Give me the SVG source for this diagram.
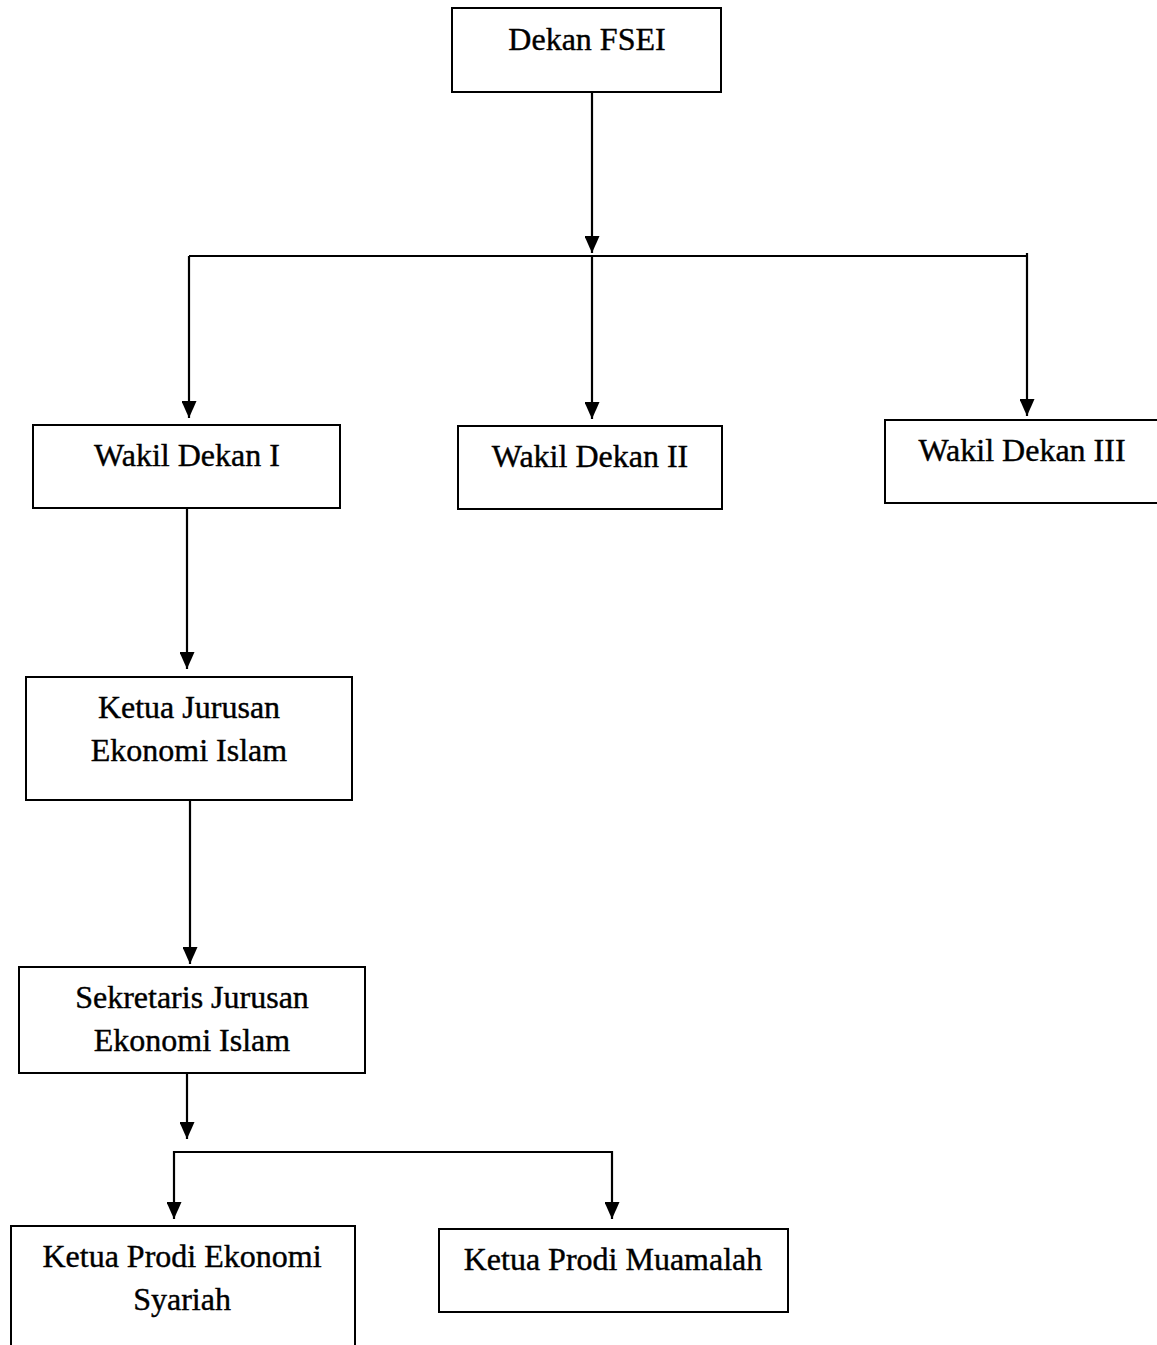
<svg xmlns="http://www.w3.org/2000/svg" width="1157" height="1345" viewBox="0 0 1157 1345">
<style>
.box{fill:#fff;stroke:#000;stroke-width:2}
.t{font-family:"Liberation Serif","Times New Roman",serif;font-size:32px;fill:#000;stroke:#000;stroke-width:0.4;text-anchor:middle}
.c{fill:none;stroke:#000;stroke-width:2.2}
.a{marker-end:url(#ah)}
</style>
<defs>
<marker id="ah" markerWidth="17" markerHeight="15" refX="17" refY="7.5" orient="auto" markerUnits="userSpaceOnUse" viewBox="0 0 17 15">
<path d="M0,0 L17,7.5 L0,15 Z" fill="#000"/>
</marker>
</defs>
<rect width="1157" height="1345" fill="#fff"/>
<g id="connectors">
<path class="c a" d="M592,92 V253"/>
<path class="c" d="M189,256 H1027"/>
<path class="c a" d="M592,256 V419"/>
<path class="c a" d="M189,256 V418"/>
<path class="c a" d="M1027,253 V416"/>
<path class="c a" d="M187,508 V669"/>
<path class="c a" d="M190,800 V964"/>
<path class="c a" d="M187,1073 V1139"/>
<path class="c" d="M174,1152 H612"/>
<path class="c a" d="M174,1151 V1219"/>
<path class="c a" d="M612,1151 V1219"/>
</g>
<g id="dekan"><rect class="box" x="452" y="8" width="269" height="84"/><text class="t" x="587" y="50">Dekan FSEI</text></g>
<g id="wd1"><rect class="box" x="33" y="425" width="307" height="83"/><text class="t" x="187" y="466">Wakil Dekan I</text></g>
<g id="wd2"><rect class="box" x="458" y="426" width="264" height="83"/><text class="t" x="590" y="467">Wakil Dekan II</text></g>
<g id="wd3"><rect class="box" x="885" y="420" width="280" height="83"/><text class="t" x="1022" y="461">Wakil Dekan III</text></g>
<g id="kajur"><rect class="box" x="26" y="677" width="326" height="123"/><text class="t" x="189" y="718">Ketua Jurusan</text><text class="t" x="189" y="761">Ekonomi Islam</text></g>
<g id="sekjur"><rect class="box" x="19" y="967" width="346" height="106"/><text class="t" x="192" y="1008">Sekretaris Jurusan</text><text class="t" x="192" y="1051">Ekonomi Islam</text></g>
<g id="kaprodi-es"><rect class="box" x="11" y="1226" width="344" height="130"/><text class="t" x="182" y="1267">Ketua Prodi Ekonomi</text><text class="t" x="182" y="1310">Syariah</text></g>
<g id="kaprodi-mu"><rect class="box" x="439" y="1229" width="349" height="83"/><text class="t" x="613" y="1270">Ketua Prodi Muamalah</text></g>
</svg>
